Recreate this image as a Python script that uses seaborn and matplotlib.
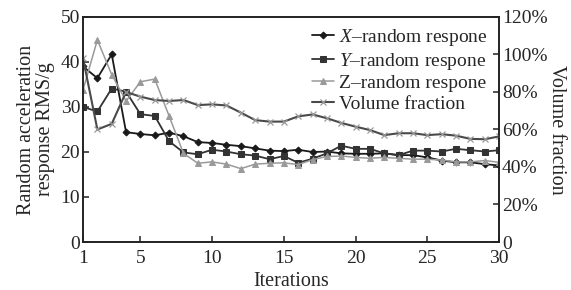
import matplotlib
matplotlib.use("Agg")
import matplotlib.pyplot as plt
import seaborn as sns
import pandas as pd
from matplotlib.ticker import FuncFormatter

iterations = list(range(1, 31))
x_resp = [39.0, 36.4, 41.7, 24.4, 24.0, 23.7, 24.3, 23.5, 22.2, 22.0, 21.6, 21.3, 20.8, 20.3, 20.2,
          20.5, 20.0, 20.1, 19.7, 19.6, 19.6, 19.7, 19.3, 19.3, 18.8, 18.1, 17.7, 17.7, 17.3, 17.0]
y_resp = [30.0, 29.0, 34.1, 33.4, 28.4, 28.0, 22.4, 19.9, 19.5, 20.5, 20.1, 19.5, 19.2, 18.4, 19.1,
          17.6, 18.5, 19.7, 21.4, 20.7, 20.7, 19.7, 19.3, 20.3, 20.3, 20.1, 20.7, 20.4, 20.1, 20.4]
z_resp = [33.8, 44.9, 37.2, 31.3, 35.6, 36.2, 28.0, 19.7, 17.5, 17.8, 17.3, 16.3, 17.3, 17.5, 17.6,
          17.2, 18.3, 19.0, 19.1, 18.8, 18.6, 18.8, 18.6, 18.4, 18.4, 18.2, 17.8, 17.8, 18.1, 17.7]
vol_frac = [98, 60, 63, 80, 77.5, 75.7, 75.2, 75.7, 73.0, 73.4, 72.8, 69.0, 65.0, 64.2, 64.2,
            67.0, 68.0, 66.0, 63.5, 61.5, 59.7, 57.0, 58.0, 58.0, 57.0, 57.5, 56.7, 55.0, 54.8, 56.3]

x_ticks = [1, 5, 10, 15, 20, 25, 30]
left_ticks = [0, 10, 20, 30, 40, 50]
right_ticks = [0, 20, 40, 60, 80, 100, 120]

sns.set_style("ticks")
plt.rcParams['font.family'] = ['Liberation Serif', 'DejaVu Serif']
plt.rcParams['mathtext.fontset'] = 'custom'
plt.rcParams['mathtext.rm'] = 'Liberation Serif'
plt.rcParams['mathtext.it'] = 'Liberation Serif:italic'

df = pd.DataFrame({"it": iterations, "X": x_resp, "Y": y_resp, "Z": z_resp, "V": vol_frac})

fig = plt.figure(figsize=(5.71, 2.90), dpi=100)
ax = fig.add_axes([0.1454, 0.1655, 0.7286, 0.776])
ax2 = ax.twinx()

sns.lineplot(data=df, x="it", y="X", ax=ax, color="#1a1a1a", lw=1.3, marker="D", markersize=3.5,
             markeredgecolor="#1a1a1a", label=r"$\it{X}$–random respone", legend=False)
sns.lineplot(data=df, x="it", y="Y", ax=ax, color="#333333", lw=1.3, marker="s", markersize=4.5,
             markeredgecolor="#333333", label=r"$\it{Y}$–random respone", legend=False)
sns.lineplot(data=df, x="it", y="Z", ax=ax, color="#9a9a9a", lw=1.1, marker="^", markersize=4.5,
             markeredgecolor="#9a9a9a", label="Z–random respone", legend=False)
sns.lineplot(data=df, x="it", y="V", ax=ax2, color="#4a4a4a", lw=1.5, marker="x", markersize=4,
             markeredgecolor="#999999", markeredgewidth=0.9, label="Volume fraction", legend=False)

ax.set_xlim(1, 30)
ax.set_ylim(0, 50)
ax2.set_ylim(0, 120)
ax.set_xticks(x_ticks)
ax.set_yticks(left_ticks)
ax2.set_yticks(right_ticks)
ax2.yaxis.set_major_formatter(FuncFormatter(lambda v, p: "0" if v == 0 else f"{int(v)}%"))

for a in (ax, ax2):
    a.tick_params(direction="in", length=4, width=1.1, labelsize=14, color="#222222", pad=2)
    for s in a.spines.values():
        s.set_linewidth(1.2)
        s.set_color("#222222")
ax.tick_params(axis="x", pad=6)

ax.set_xlabel("Iterations", fontsize=14.5, labelpad=3)
ax.set_ylabel("Random acceleration\nresponse RMS/g", fontsize=14.5, labelpad=4, linespacing=1.0)
ax2.set_ylabel("Volume fraction", fontsize=14.5, rotation=270, labelpad=13)

h1, l1 = ax.get_legend_handles_labels()
h2, l2 = ax2.get_legend_handles_labels()
ax2.legend(h1 + h2, l1 + l2, loc="upper right", frameon=False, fontsize=14,
           handlelength=1.1, handletextpad=0.25, labelspacing=0.15, borderaxespad=0.1,
           bbox_to_anchor=(0.995, 1.0))

fig.savefig("out.png", dpi=100)
